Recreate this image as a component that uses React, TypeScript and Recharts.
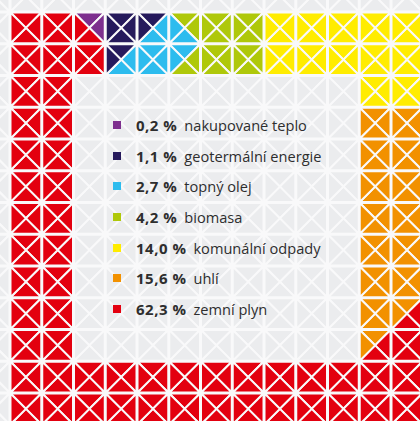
import { ScatterChart, Scatter, XAxis, YAxis, Legend } from 'recharts';

// legend / categories
const categories = [
  'nakupované teplo',
  'geotermální energie',
  'topný olej',
  'biomasa',
  'komunální odpady',
  'uhlí',
  'zemní plyn',
];
const shares = [0.2, 1.1, 2.7, 4.2, 14.0, 15.6, 62.3];
const codes = ['p', 'n', 'c', 'g', 'y', 'o', 'r'];
const colors = ['#7d2f8e', '#261a5c', '#2dbcee', '#afc80a', '#ffec00', '#f29100', '#e3000f'];

// ring cells, one string per cell: triangles top, right, bottom, left
const ring = [
  'rrrr rrrr pprr nnnn nccn ggcc gggg gggg yyyy yyyy yyyy yyyy yyyy',
  'rrrr rrrr rrrr nccn cccc cggc gggg gggg yyyy yyyy yyyy yyyy yyyy',
  'rrrr rrrr .... .... .... .... .... .... .... .... .... yyyy yyyy',
  'rrrr rrrr .... .... .... .... .... .... .... .... .... oooo oooo',
  'rrrr rrrr .... .... .... .... .... .... .... .... .... oooo oooo',
  'rrrr rrrr .... .... .... .... .... .... .... .... .... oooo oooo',
  'rrrr rrrr .... .... .... .... .... .... .... .... .... oooo oooo',
  'rrrr rrrr .... .... .... .... .... .... .... .... .... oooo oooo',
  'rrrr rrrr .... .... .... .... .... .... .... .... .... oooo oooo',
  'rrrr rrrr .... .... .... .... .... .... .... .... .... oooo orro',
  'rrrr rrrr .... .... .... .... .... .... .... .... .... orro rrrr',
  'rrrr rrrr rrrr rrrr rrrr rrrr rrrr rrrr rrrr rrrr rrrr rrrr rrrr',
  'rrrr rrrr rrrr rrrr rrrr rrrr rrrr rrrr rrrr rrrr rrrr rrrr rrrr',
];

const W = 420;
const H = 421;
const X_DOMAIN = [-0.815, 12.413];
const Y_DOMAIN = [-0.878, 12.382];
const PITCH = W / (X_DOMAIN[1] - X_DOMAIN[0]);
const GRAY = '#ebecee';
const SIDES = ['T', 'R', 'B', 'L'];

const colorOf = (code: string) => {
  const i = codes.indexOf(code);
  return i < 0 ? GRAY : colors[i];
};

const points: { x: number; y: number; side: string; fill: string }[] = [];
for (let r = -1; r <= 12; r++) {
  for (let c = -1; c <= 12; c++) {
    const cell = r >= 0 && c >= 0 ? ring[r].split(' ')[c] : '....';
    SIDES.forEach((s, k) => points.push({ x: c, y: r, side: s, fill: colorOf(cell[k]) }));
  }
}

function Triangle(props: any) {
  const { cx, cy, payload } = props;
  const h = PITCH / 2 - 0.5;
  const tl = [cx - h, cy - h];
  const tr = [cx + h, cy - h];
  const br = [cx + h, cy + h];
  const bl = [cx - h, cy + h];
  const pairs: Record<string, number[][]> = { T: [tl, tr], R: [tr, br], B: [br, bl], L: [bl, tl] };
  const [a, b] = pairs[payload.side];
  return (
    <polygon
      points={`${a[0]},${a[1]} ${b[0]},${b[1]} ${cx},${cy}`}
      fill={payload.fill}
      stroke="#f9f9fa"
      strokeWidth={2}
    />
  );
}

function LegendBox() {
  return (
    <div style={{ fontFamily: '"Open Sans", sans-serif', fontSize: 14.6, color: '#2e2e2e' }}>
      {categories.map((name, i) => (
        <div key={name} style={{ display: 'flex', alignItems: 'center', height: 30.7, whiteSpace: 'nowrap' }}>
          <span style={{ width: 8, height: 8, background: colors[i], marginLeft: 3, marginRight: 15 }} />
          <b style={{ fontSize: 15, letterSpacing: 0.5 }}>{shares[i].toFixed(1).replace('.', ',')}&nbsp;%</b>
          <span style={{ marginLeft: 7 }}>{name}</span>
        </div>
      ))}
    </div>
  );
}

export default function App() {
  return (
    <div style={{ position: 'absolute', left: 0, top: 0, width: W, height: H, background: '#fff' }}>
      <ScatterChart width={W} height={H} margin={{ top: 0, right: 0, bottom: 0, left: 0 }}>
        <XAxis type="number" dataKey="x" domain={X_DOMAIN} allowDataOverflow hide />
        <YAxis type="number" dataKey="y" domain={Y_DOMAIN} allowDataOverflow reversed hide />
        <Scatter data={points} shape={Triangle} isAnimationActive={false} />
        <Legend
          layout="vertical"
          align="center"
          verticalAlign="middle"
          content={() => <LegendBox />}
          wrapperStyle={{ left: 110, top: 109.6, width: 260, height: 'auto' }}
        />
      </ScatterChart>
    </div>
  );
}
